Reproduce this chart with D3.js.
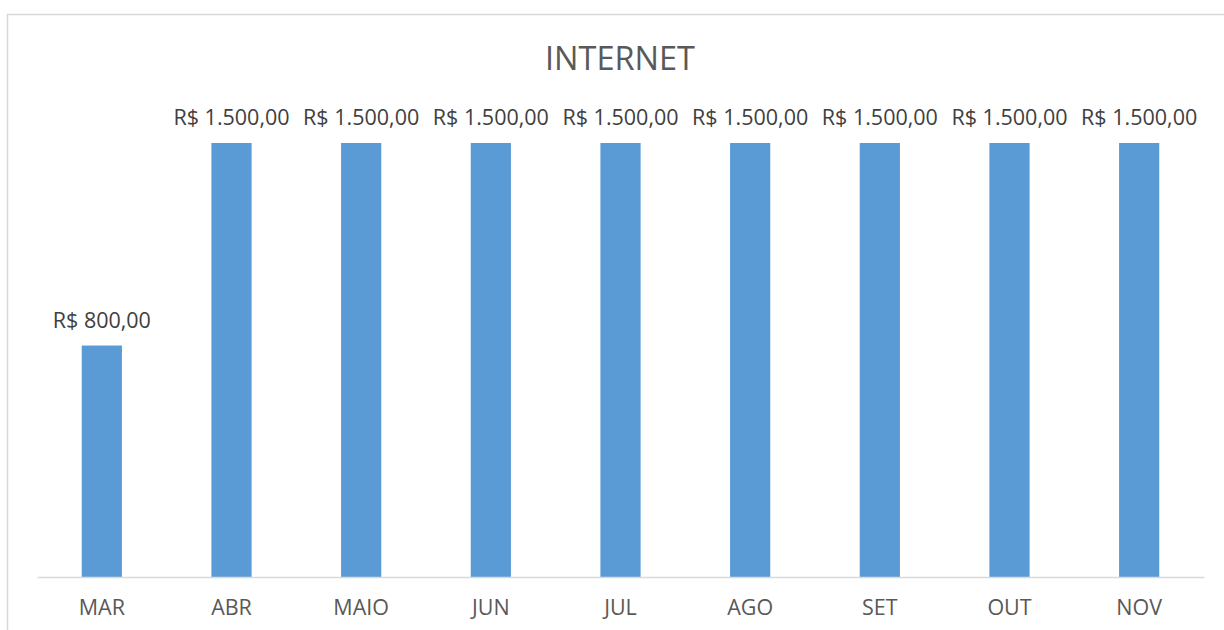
<!DOCTYPE html>
<html>
<head>
<meta charset="utf-8">
<script src="https://cdn.jsdelivr.net/npm/d3@7/dist/d3.min.js"></script>
<style>
html,body{margin:0;padding:0;background:#fff;overflow:hidden;}
svg{display:block;}
</style>
</head>
<body>
<svg id="chart" width="1224" height="630"></svg>
<script>
const categories = ["MAR","ABR","MAIO","JUN","JUL","AGO","SET","OUT","NOV"];
const values = [800,1500,1500,1500,1500,1500,1500,1500,1500];
const title = "INTERNET";

const svg = d3.select("#chart");
const font = "'Open Sans', sans-serif";

svg.append("rect").attr("x",7.5).attr("y",14.5).attr("width",1400).attr("height",800)
  .attr("fill","#fff").attr("stroke","#D9D9D9").attr("stroke-width",1.5);

const x = d3.scaleBand().domain(categories).range([37,1204]).paddingInner(0.69).paddingOuter(0.345);
const y = d3.scaleLinear().domain([0,1500]).range([577,143]);

svg.append("text").attr("x",620).attr("y",69.5).attr("text-anchor","middle")
  .attr("font-family",font).attr("font-size",32.5).attr("fill","#595959").text(title);

const data = categories.map((c,i)=>({c, v: values[i]}));

svg.selectAll("rect.bar").data(data).enter().append("rect").attr("class","bar")
  .attr("x",d=>x(d.c)).attr("width",x.bandwidth())
  .attr("y",d=>y(d.v)).attr("height",d=>y(0)-y(d.v)).attr("fill","#5B9BD5");

const fmt = v => {
  const s = v.toFixed(2).split(".");
  const int = s[0].replace(/\B(?=(\d{3})+(?!\d))/g,".");
  return "R$ " + int + "," + s[1];
};

svg.selectAll("text.lbl").data(data).enter().append("text").attr("class","lbl")
  .attr("x",d=>x(d.c)+x.bandwidth()/2).attr("y",d=>y(d.v)-18)
  .attr("text-anchor","middle").attr("font-family",font).attr("font-size",21.5)
  .attr("fill","#404040").text(d=>fmt(d.v));

const axis = d3.axisBottom(x).tickSize(0).tickPadding(0);
const g = svg.append("g").attr("transform",`translate(0,${y(0)})`).call(axis);
g.select(".domain").attr("stroke","#D9D9D9").attr("stroke-width",1.5);
g.selectAll(".tick text").attr("font-family",font).attr("font-size",21.5)
  .attr("fill","#595959").attr("dy",null).attr("y",38);
</script>
</body>
</html>
